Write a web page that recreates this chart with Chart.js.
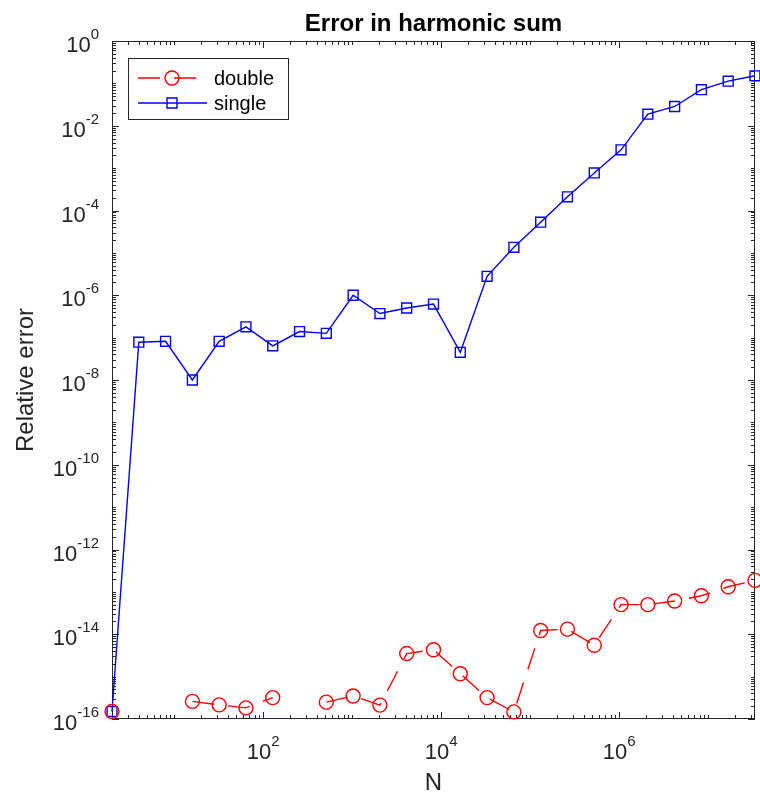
<!DOCTYPE html>
<html>
<head>
<meta charset="utf-8">
<title>Error in harmonic sum</title>
<script src="https://cdn.jsdelivr.net/npm/chart.js@4/dist/chart.umd.min.js"></script>
<style>
  html, body { margin: 0; padding: 0; background: #fff; }
</style>
</head>
<body>
<canvas id="myChart" width="760" height="794"></canvas>
<script>
// N = 2^k, k = 1..25
const nValues = [2, 4, 8, 16, 32, 64, 128, 256, 512, 1024, 2048, 4096, 8192,
  16384, 32768, 65536, 131072, 262144, 524288, 1048576, 2097152, 4194304,
  8388608, 16777216, 33554432]

// relative error of the sum, null where the error was exactly zero
const doubleErr = [1.5e-16, null, null, 2.6e-16, 2.15e-16, 1.83e-16, 3.2e-16, null,
  2.5e-16, 3.5e-16, 2.13e-16, 3.5e-15, 4.3e-15, 1.17e-15, 3.2e-16, 1.47e-16,
  1.23e-14, 1.32e-14, 5.5e-15, 5.0e-14, 5.0e-14, 6.1e-14, 8.1e-14, 1.32e-13, 1.87e-13]

const singleErr = [1.5e-16, 7.8e-8, 8.2e-8, 1.0e-8, 8.2e-8, 1.8e-7, 6.4e-8, 1.39e-7,
  1.26e-7, 1.0e-6, 3.7e-7, 5.0e-7, 6.2e-7, 4.5e-8, 2.8e-6, 1.35e-5, 5.3e-5,
  2.1e-4, 7.7e-4, 2.7e-3, 1.88e-2, 2.85e-2, 7.1e-2, 0.113, 0.151]

// labelled decades (exponents of 10)
const xTickPowers = [2, 4, 6]
const yTickPowers = [0, -2, -4, -6, -8, -10, -12, -14, -16]

const AXIS_COLOR = '#262626'
const FONT = '"Liberation Sans", Arial, Helvetica, sans-serif'
const RED_DASH = [22, 14]
const LINE_W = 1.4

// "10" followed by a raised exponent, centred on x or right aligned to x
function drawPower(ctx, exp, x, y, align) {
  ctx.font = `22px ${FONT}`
  const baseW = ctx.measureText('10').width
  ctx.font = `15px ${FONT}`
  const expText = String(exp)
  const expW = ctx.measureText(expText).width
  const total = baseW + expW
  const left = align === 'center' ? x - total / 2 : x - total
  ctx.textAlign = 'left'
  ctx.textBaseline = 'alphabetic'
  ctx.font = `22px ${FONT}`
  ctx.fillText('10', left, y)
  ctx.font = `15px ${FONT}`
  ctx.fillText(expText, left + baseW, y - 13)
}

// box, inward ticks on all four sides, tick labels
const axesBox = {
  id: 'axesBox',
  beforeDatasetsDraw(chart) {
    const { ctx, chartArea: a, scales: { x, y } } = chart
    ctx.save()
    ctx.strokeStyle = AXIS_COLOR
    ctx.lineWidth = 1
    ctx.strokeRect(a.left + 0.5, a.top + 0.5, a.right - a.left - 1, a.bottom - a.top - 1)

    ctx.beginPath()
    // x ticks
    for (let d = 0; d <= 7; d++) {
      for (let m = 1; m <= 9; m++) {
        const v = m * Math.pow(10, d)
        if (v < x.min || v > x.max) continue
        const len = (m === 1 && xTickPowers.includes(d)) ? 7 : 4
        const px = Math.round(x.getPixelForValue(v)) + 0.5
        ctx.moveTo(px, a.bottom); ctx.lineTo(px, a.bottom - len)
        ctx.moveTo(px, a.top); ctx.lineTo(px, a.top + len)
      }
    }
    // y ticks
    for (let d = -16; d <= 0; d++) {
      for (let m = 1; m <= 9; m++) {
        const v = m * Math.pow(10, d)
        if (v < y.min * 0.999 || v > y.max * 1.001) continue
        const len = (m === 1 && yTickPowers.includes(d)) ? 7 : 4
        const py = Math.round(y.getPixelForValue(v)) + 0.5
        ctx.moveTo(a.left, py); ctx.lineTo(a.left + len, py)
        ctx.moveTo(a.right, py); ctx.lineTo(a.right - len, py)
      }
    }
    ctx.stroke()

    ctx.fillStyle = AXIS_COLOR
    xTickPowers.forEach(p => {
      drawPower(ctx, p, x.getPixelForValue(Math.pow(10, p)), a.bottom + 40, 'center')
    })
    yTickPowers.forEach(p => {
      drawPower(ctx, p, a.left - 13, y.getPixelForValue(Math.pow(10, p)) + 11, 'right')
    })
    ctx.restore()
  },
  afterDraw(chart) {
    const { ctx, chartArea: a } = chart
    const cx = (a.left + a.right) / 2
    ctx.save()
    ctx.textBaseline = 'alphabetic'

    // title and axis labels
    ctx.fillStyle = '#000'
    ctx.textAlign = 'center'
    ctx.font = `bold 24px ${FONT}`
    ctx.fillText('Error in harmonic sum', cx, 31)

    ctx.fillStyle = AXIS_COLOR
    ctx.font = `24px ${FONT}`
    ctx.fillText('N', cx, 790)
    ctx.translate(32.5, (a.top + a.bottom) / 2)
    ctx.rotate(-Math.PI / 2)
    ctx.fillText('Relative error', 0, 0)
    ctx.restore()

    // legend
    ctx.save()
    const bx = 128.5, by = 58.5
    ctx.fillStyle = '#fff'
    ctx.fillRect(bx, by, 160, 61)
    ctx.strokeStyle = AXIS_COLOR
    ctx.lineWidth = 1
    ctx.strokeRect(bx, by, 160, 61)

    chart.data.datasets.forEach((ds, i) => {
      const ly = 78 + i * 25
      ctx.strokeStyle = ds.borderColor
      ctx.lineWidth = LINE_W
      ctx.setLineDash(ds.borderDash || [])
      ctx.beginPath()
      ctx.moveTo(138, ly); ctx.lineTo(207, ly)
      ctx.stroke()
      ctx.setLineDash([])
      ctx.beginPath()
      if (ds.pointStyle === 'circle') {
        ctx.arc(172, ly, 7, 0, Math.PI * 2)
      } else {
        ctx.rect(167, ly - 5, 10, 10)
      }
      ctx.stroke()
      ctx.fillStyle = '#000'
      ctx.textAlign = 'left'
      ctx.font = `20px ${FONT}`
      ctx.fillText(ds.label, 214, ly + 7)
    })
    ctx.restore()
  }
}

const ctx = document.querySelector('#myChart').getContext('2d')

const myChart = new Chart(ctx, {
  type: 'line',
  data: {
    datasets: [{
      label: 'double',
      data: nValues.map((n, i) => ({ x: n, y: doubleErr[i] })),
      borderColor: '#ff0000',
      borderWidth: LINE_W,
      borderDash: RED_DASH,
      pointStyle: 'circle',
      pointRadius: 7,
      pointBorderColor: '#ff0000',
      pointBackgroundColor: 'rgba(0,0,0,0)',
      pointBorderWidth: LINE_W,
      tension: 0,
      fill: false,
      spanGaps: false,
      clip: false
    }, {
      label: 'single',
      data: nValues.map((n, i) => ({ x: n, y: singleErr[i] })),
      borderColor: '#0000ff',
      borderWidth: LINE_W,
      pointStyle: 'rect',
      pointRadius: 7,
      pointBorderColor: '#0000ff',
      pointBackgroundColor: 'rgba(0,0,0,0)',
      pointBorderWidth: LINE_W,
      tension: 0,
      fill: false,
      clip: false
    }]
  },
  options: {
    responsive: false,
    animation: false,
    events: [],
    layout: {
      autoPadding: false,
      padding: { left: 112, right: 5, top: 41, bottom: 75 }
    },
    plugins: {
      legend: { display: false },
      title: { display: false },
      tooltip: { enabled: false }
    },
    scales: {
      x: { type: 'logarithmic', min: 2, max: 33554432, display: false },
      y: { type: 'logarithmic', min: 1e-16, max: 1, display: false }
    }
  },
  plugins: [axesBox]
})
</script>
</body>
</html>
